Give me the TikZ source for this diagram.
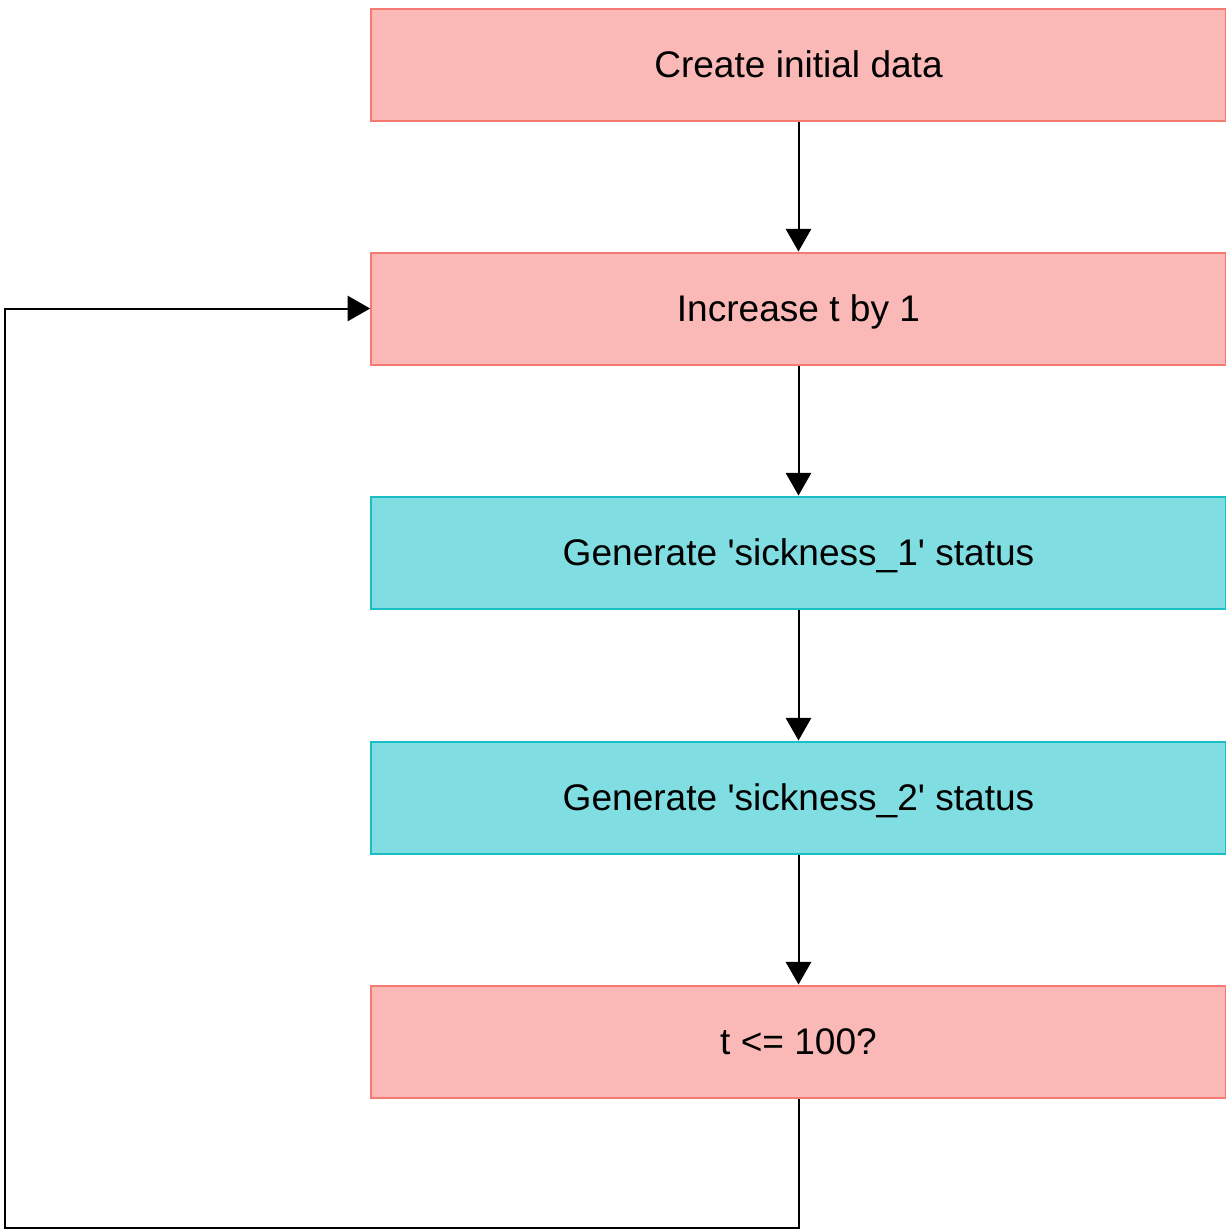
\documentclass[tikz,border=0pt]{standalone}
\usepackage{fontspec}
\setmainfont{Liberation Sans}
\usepackage{tikz}
\usetikzlibrary{arrows.meta, positioning}

\definecolor{pinkfill}{HTML}{FAB9B6}
\definecolor{pinkline}{HTML}{F47A74}
\definecolor{cyanfill}{HTML}{80DEE2}
\definecolor{cyanline}{HTML}{18C0C5}

\tikzset{
  stepbox/.style={rectangle, draw, line width=1.5pt, minimum width=641pt,
    minimum height=84pt, inner sep=0pt, text height=20pt, text depth=0pt,
    font=\fontsize{27.8}{33}\selectfont},
  pinkbox/.style={stepbox, fill=pinkfill, draw=pinkline},
  cyanbox/.style={stepbox, fill=cyanfill, draw=cyanline},
  arr/.style={line width=1.5pt, -{Triangle[length=17pt,width=19pt]}}
}

\begin{document}
\begin{tikzpicture}[x=0.75pt,y=-0.75pt]
            \useasboundingbox (0,0) rectangle (1226,1229);
            \node[pinkbox] (init) at (798.5,64.5) {Create initial data};
            \node[pinkbox] (incr) at (798.5,308.5) {Increase t by 1};
            \node[cyanbox] (sickA) at (798.5,552.5) {Generate \textquotesingle sickness\_1\textquotesingle{} status};
            \node[cyanbox] (sickB) at (798.5,797.5) {Generate \textquotesingle sickness\_2\textquotesingle{} status};
            \node[pinkbox] (check) at (798.5,1041.5) {t <= 100?};
            \coordinate (loopbot) at (5,1228);
            \draw[arr] (init) -- (incr);
            \draw[arr] (incr) -- (sickA);
            \draw[arr] (sickA) -- (sickB);
            \draw[arr] (sickB) -- (check);
            \draw[arr] (check.south) |- (loopbot) |- (incr.west);
        \end{tikzpicture}
\end{document}
